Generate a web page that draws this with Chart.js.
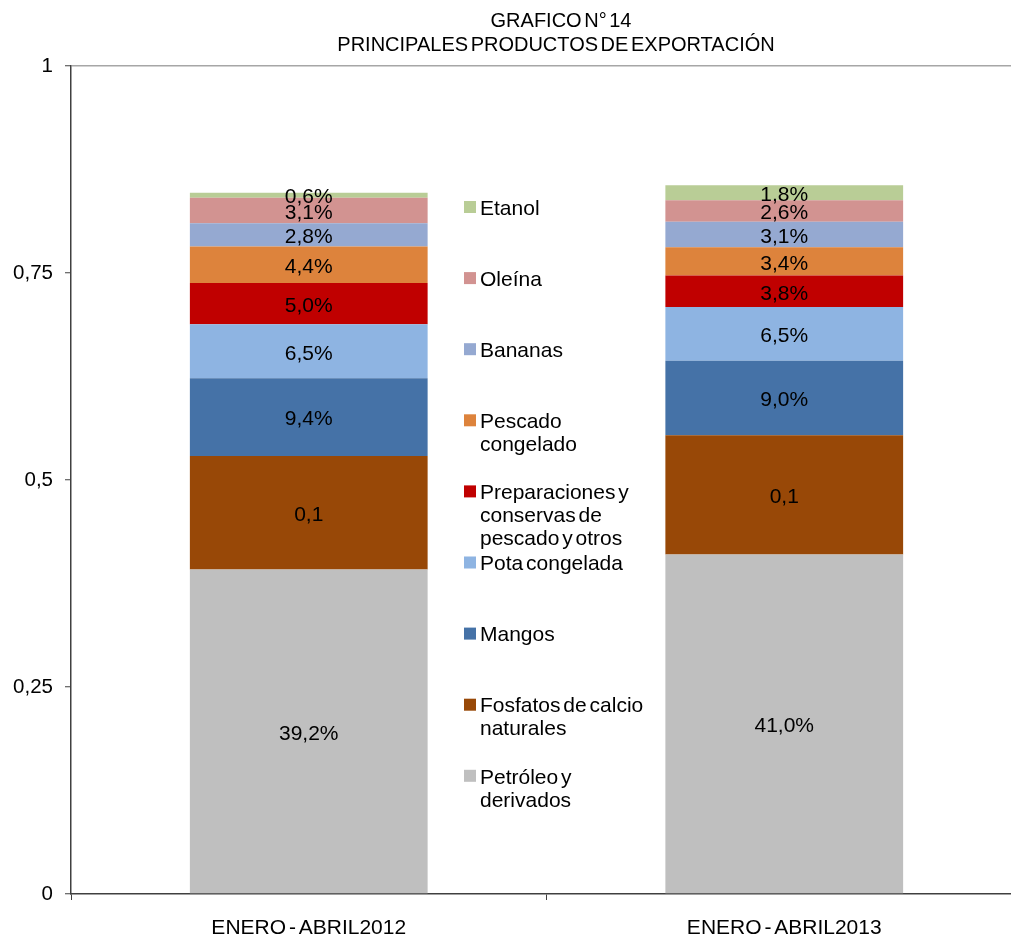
<!DOCTYPE html>
<html>
<head>
<meta charset="utf-8">
<script src="https://cdn.jsdelivr.net/npm/chart.js@4.4.0/dist/chart.umd.min.js"></script>
<style>
html,body{margin:0;padding:0;background:#fff;overflow:hidden;width:1011px;height:937px;}
#wrap{position:absolute;left:0;top:0;width:1022px;height:937px;}
</style>
</head>
<body>
<div id="wrap"><canvas id="c" width="1022" height="937"></canvas></div>
<script>
// ---- data ----
const categories = ['ENERO - ABRIL2012', 'ENERO - ABRIL2013'];
const seriesNames = [
  'Petróleo y\nderivados',
  'Fosfatos de calcio\nnaturales',
  'Mangos',
  'Pota congelada',
  'Preparaciones y\nconservas de\npescado y otros',
  'Pescado\ncongelado',
  'Bananas',
  'Oleína',
  'Etanol'
];
const petroleo      = [0.392, 0.410];
const fosfatos      = [0.137, 0.144];
const mangos        = [0.094, 0.090];
const pota          = [0.065, 0.065];
const preparaciones = [0.050, 0.038];
const pescado       = [0.044, 0.034];
const bananas       = [0.028, 0.031];
const oleina        = [0.031, 0.026];
const etanol        = [0.006, 0.018];
const seriesValues = [petroleo, fosfatos, mangos, pota, preparaciones, pescado, bananas, oleina, etanol];
// label format per series: 'pct' = percent with one decimal, 'num' = plain number with one decimal
const labelFormats = ['pct','num','pct','pct','pct','pct','pct','pct','pct'];
const yTicks = [0, 0.25, 0.5, 0.75, 1];
const titleLines = ['GRAFICO N° 14', 'PRINCIPALES PRODUCTOS DE EXPORTACIÓN'];

const colors = ['#bfbfbf','#984807','#4572a7','#8eb4e2','#c00000','#dd833c','#95a9d1','#d29391','#b9cd96'];
const FONT = '"Liberation Sans", Arial, sans-serif';

function fmtComma(v, digits) {
  return v.toFixed(digits).replace('.', ',');
}

const datasets = seriesValues.map((vals, i) => ({
  label: seriesNames[i],
  data: vals,
  backgroundColor: colors[i],
  borderWidth: 0,
  barPercentage: 1.0,
  categoryPercentage: 0.5,
  fmt: labelFormats[i]
}));

const spacingPlugin = {
  id: 'spacing',
  beforeDraw(chart) {
    try { chart.ctx.wordSpacing = '-3px'; } catch (e) {}
  }
};

const labelPlugin = {
  id: 'segLabels',
  afterDatasetsDraw(chart) {
    const ctx = chart.ctx;
    ctx.save();
    ctx.font = '21px ' + FONT;
    ctx.fillStyle = '#000';
    ctx.textAlign = 'center';
    ctx.textBaseline = 'middle';
    chart.data.datasets.forEach((ds, di) => {
      const meta = chart.getDatasetMeta(di);
      meta.data.forEach((el, j) => {
        const v = ds.data[j];
        const txt = ds.fmt === 'pct' ? fmtComma(v * 100, 1) + '%' : fmtComma(v, 1);
        const y = (el.y + el.base) / 2 + 2.5;
        ctx.fillText(txt, el.x, y);
      });
    });
    ctx.restore();
  }
};

const legendPlugin = {
  id: 'innerLegend',
  afterDraw(chart) {
    const ctx = chart.ctx;
    ctx.save();
    ctx.font = '21px ' + FONT;
    ctx.textBaseline = 'middle';
    ctx.textAlign = 'left';
    const n = chart.data.datasets.length;
    const x0 = 464, y0 = 209, step = 71.1, lh = 23;
    for (let k = 0; k < n; k++) {
      const di = n - 1 - k;
      const ds = chart.data.datasets[di];
      const y = y0 + k * step;
      ctx.fillStyle = ds.backgroundColor;
      ctx.fillRect(x0, y - 8, 12, 12);
      ctx.fillStyle = '#000';
      ds.label.split('\n').forEach((line, li) => {
        ctx.fillText(line, x0 + 16, y + li * lh);
      });
    }
    ctx.restore();
  }
};

const titlePlugin = {
  id: 'titleDraw',
  afterDraw(chart) {
    const ctx = chart.ctx;
    ctx.save();
    ctx.font = '20px ' + FONT;
    ctx.fillStyle = '#000';
    ctx.textAlign = 'center';
    ctx.textBaseline = 'middle';
    ctx.fillText(titleLines[0], 561, 21);
    ctx.fillText(titleLines[1], 556, 45);
    ctx.restore();
  }
};

new Chart(document.getElementById('c'), {
  type: 'bar',
  data: { labels: categories, datasets: datasets },
  options: {
    responsive: false,
    animation: false,
    devicePixelRatio: 1,
    layout: { padding: { top: 66, right: 0, left: 0, bottom: 0 } },
    plugins: { legend: { display: false }, title: { display: false }, tooltip: { enabled: false } },
    scales: {
      x: {
        stacked: true,
        grid: { offset: true, drawOnChartArea: false, tickLength: 6, tickColor: '#404040', tickWidth: 1 },
        border: { color: '#404040', width: 1.5 },
        ticks: { color: '#000', font: { family: FONT, size: 21 }, padding: 16, maxRotation: 0 },
        afterFit(scale) { scale.height = 43; }
      },
      y: {
        stacked: true,
        min: 0, max: 1,
        afterBuildTicks(scale) { scale.ticks = yTicks.map(v => ({ value: v })); },
        grid: {
          color: ctx => (ctx.tick && ctx.tick.value === 1) ? '#a6a6a6' : 'rgba(0,0,0,0)',
          lineWidth: 1.5,
          tickLength: 6, tickColor: '#404040', tickWidth: 1
        },
        border: { color: '#404040', width: 1.5 },
        ticks: {
          color: '#000', font: { family: FONT, size: 20.5 }, padding: 12,
          callback: v => String(v).replace('.', ',')
        },
        afterFit(scale) { scale.width = 71; }
      }
    }
  },
  plugins: [spacingPlugin, labelPlugin, legendPlugin, titlePlugin]
});
</script>
</body>
</html>
